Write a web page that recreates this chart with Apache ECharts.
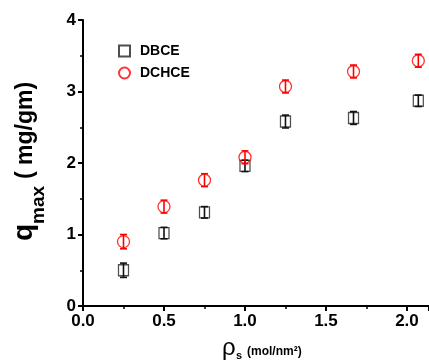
<!DOCTYPE html>
<html><head><meta charset="utf-8">
<script src="https://cdn.jsdelivr.net/npm/echarts@6/dist/echarts.min.js"></script>
<style>html,body{margin:0;padding:0;background:#fff}#c{width:429px;height:364px}</style>
</head><body><div id="c"></div>
<script>
var xDBCE = [0.25, 0.5, 0.75, 1.0, 1.25, 1.67, 2.07];
var yDBCE = [0.50, 1.02, 1.31, 1.96, 2.58, 2.63, 2.87];
var errDBCE = [0.10, 0.08, 0.08, 0.08, 0.09, 0.09, 0.08];
var xDCHCE = [0.25, 0.5, 0.75, 1.0, 1.25, 1.67, 2.07];
var yDCHCE = [0.90, 1.39, 1.76, 2.08, 3.07, 3.28, 3.43];
var errDCHCE = [0.10, 0.09, 0.09, 0.09, 0.09, 0.09, 0.09];
var xTicks = ['0.0','0.5','1.0','1.5','2.0'];
var yTicks = ['0','1','2','3','4'];

var FONT = 'Liberation Sans, Arial, sans-serif';
function pts(xs, ys){ return xs.map(function(x,i){return [x, ys[i]];}); }
function errs(xs, ys, es){ return xs.map(function(x,i){return [x, ys[i]-es[i], ys[i]+es[i]];}); }
function errRender(color){
  return function(params, api){
    var lo = api.coord([api.value(0), api.value(1)]);
    var hi = api.coord([api.value(0), api.value(2)]);
    var w = 3.5;
    var st = {stroke: color, lineWidth: 1.6};
    return {type:'group', children:[
      {type:'line', shape:{x1:lo[0],y1:lo[1],x2:hi[0],y2:hi[1]}, style:st},
      {type:'line', shape:{x1:lo[0]-w,y1:lo[1],x2:lo[0]+w,y2:lo[1]}, style:st},
      {type:'line', shape:{x1:hi[0]-w,y1:hi[1],x2:hi[0]+w,y2:hi[1]}, style:st}
    ]};
  };
}
var chart = echarts.init(document.getElementById('c'), null, {renderer:'canvas'});
var axisCommon = {
  axisLine:{show:true, onZero:false, lineStyle:{color:'#000', width:2}},
  axisTick:{show:true, inside:false, length:5, lineStyle:{color:'#000', width:2}},
  minorTick:{show:true, splitNumber:2, length:3, lineStyle:{color:'#000', width:1.5}},
  splitLine:{show:false},
  axisLabel:{color:'#000', fontFamily:FONT, fontWeight:'bold', fontSize:17}
};
function txt(x, y, s, fs, bold){
  return {type:'text', x:x, y:y, silent:true,
    style:{text:s, fontFamily:FONT, fontWeight:bold?'bold':'normal', fontSize:fs, fill:'#000', verticalAlign:'middle', align:'left'}};
}
chart.setOption({
  animation:false,
  backgroundColor:'#fff',
  grid:{left:83, top:20, right:0, bottom:58, containLabel:false},
  xAxis: Object.assign({}, axisCommon, {
    type:'value', min:0, max:2.136, interval:0.5,
    axisLabel: Object.assign({}, axisCommon.axisLabel, {margin:7, showMaxLabel:false,
      formatter:function(v){ var i=Math.round(v/0.5); return xTicks[i]!==undefined && Math.abs(v-i*0.5)<1e-6 ? xTicks[i] : ''; }})
  }),
  yAxis: Object.assign({}, axisCommon, {
    type:'value', min:0, max:4, interval:1,
    axisLabel: Object.assign({}, axisCommon.axisLabel, {margin:7,
      formatter:function(v){ return yTicks[Math.round(v)]; }})
  }),
  legend:{
    orient:'vertical', left:113, top:39, itemWidth:11, itemHeight:11, itemGap:8,
    textStyle:{color:'#000', fontFamily:FONT, fontWeight:'bold', fontSize:14, padding:[0,0,0,5]},
    data:['DBCE','DCHCE']
  },
  graphic:[
    {type:'group', x:33, y:241, rotation:Math.PI/2, silent:true, children:[
      txt(0, -9, 'q', 28, true),
      txt(17, 6, 'max', 19, true),
      txt(62, -7, '( mg/gm)', 23, true)
    ]},
    {type:'group', x:222, y:354, silent:true, children:[
      txt(0, -6, '\u03c1', 24, false),
      txt(14, 2, 's', 11, true),
      txt(25, -2, '(mol/nm\u00b2)', 12, true)
    ]}
  ],
  series:[
    {name:'DBCE', type:'scatter', data:pts(xDBCE,yDBCE), symbol:'rect', symbolSize:[10,11],
     itemStyle:{color:'rgba(255,255,255,0)', borderColor:'#222', borderWidth:1.3}, z:3},
    {name:'DCHCE', type:'scatter', data:pts(xDCHCE,yDCHCE), symbol:'circle', symbolSize:12,
     itemStyle:{color:'rgba(255,255,255,0)', borderColor:'#ff0000', borderWidth:1.3}, z:3},
    {type:'custom', renderItem:errRender('#111'), data:errs(xDBCE,yDBCE,errDBCE), encode:{x:0,y:[1,2]}, z:4, silent:true},
    {type:'custom', renderItem:errRender('#ff0000'), data:errs(xDCHCE,yDCHCE,errDCHCE), encode:{x:0,y:[1,2]}, z:4, silent:true}
  ]
});
</script></body></html>
